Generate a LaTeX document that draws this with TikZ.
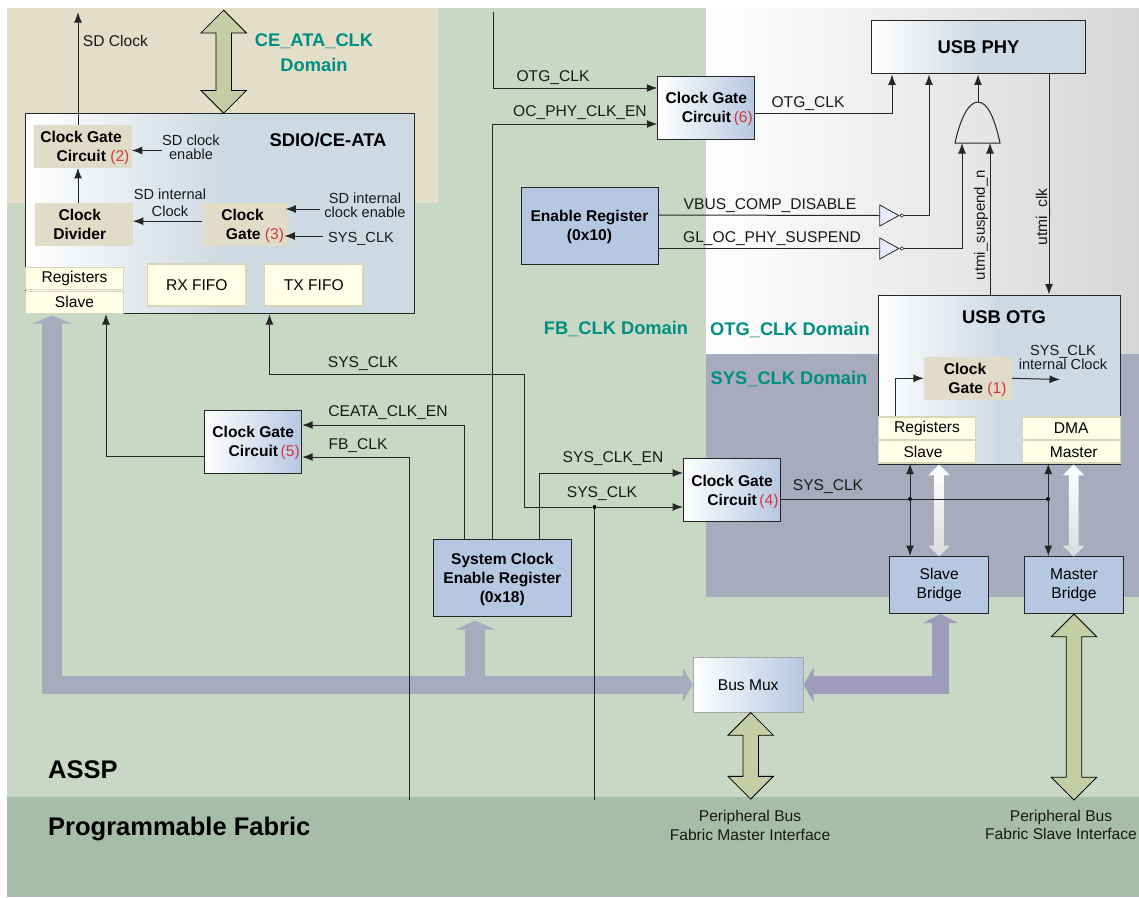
\documentclass[tikz,border=0pt]{standalone}
\usepackage{xcolor}
\usepackage{fontspec}
\setmainfont{Liberation Sans}
\usetikzlibrary{arrows.meta,positioning,shapes.geometric,shapes.arrows}
\definecolor{pagegreen}{HTML}{C9D8C5}
\definecolor{fabricgreen}{HTML}{A6BDA7}
\definecolor{ceatatan}{HTML}{E2DEC8}
\definecolor{sysgrey}{HTML}{A8AABD}
\definecolor{busviolet}{HTML}{9F9BBB}
\definecolor{sdblue}{HTML}{CEDAE3}
\definecolor{gateblue}{HTML}{B5C7E1}
\definecolor{beige}{HTML}{E0DCC8}
\definecolor{cream}{HTML}{FFFFE8}
\definecolor{creamedge}{HTML}{D9D6B6}
\definecolor{olivebus}{HTML}{C4CDA4}
\definecolor{domainteal}{HTML}{008F80}
\definecolor{numred}{HTML}{D0383F}
\newcommand{\gatenum}[1]{\textcolor{numred}{\mdseries(#1)}}
\begin{document}
\begin{tikzpicture}[
  x=1pt,y=-1pt,
  plainfont/.style={font=\fontsize{15.6}{18.5}\selectfont},
  boldfont/.style={font=\fontsize{15.6}{19}\selectfont\bfseries,text depth=0pt},
  lbl/.style={plainfont,inner sep=0,align=center,text=black!90},
  smalllbl/.style={font=\fontsize{14.6}{14.5}\selectfont,inner sep=0,align=center,text=black!90},
  blocktitle/.style={font=\fontsize{18.4}{22}\selectfont\bfseries,inner sep=0},
  domainlbl/.style={font=\fontsize{18.3}{25}\selectfont\bfseries,text=domainteal,inner sep=0,align=center},
  biglbl/.style={font=\fontsize{25.5}{30}\selectfont\bfseries,inner sep=0,anchor=west},
  fadebox/.style={draw=black!85,line width=1pt,left color=white,right color=sdblue,middle color=sdblue,inner sep=0},
  gatebox/.style={draw=black!85,line width=1pt,left color=white,right color=gateblue,boldfont,align=center,inner sep=0,minimum width=97pt,minimum height=63pt},
  regbox/.style={draw=black!85,line width=1pt,fill=gateblue,boldfont,align=center,inner sep=0},
  bridgebox/.style={draw=black!85,line width=1pt,fill=gateblue,plainfont,align=center,inner sep=0,minimum width=98.5pt,minimum height=57pt},
  beigebox/.style={fill=beige,boldfont,align=center,inner sep=0,minimum height=42.5pt},
  creambox/.style={draw=creamedge,line width=1.2pt,fill=cream,plainfont,inner sep=0,minimum width=97pt,minimum height=22.3pt},
  fifobox/.style={creambox,minimum height=42pt},
  arrow/.style={-{Latex[length=10.5pt,width=8pt]},line width=1pt,draw=black!85},
  botharrow/.style={{Latex[length=10.5pt,width=8pt]}-{Latex[length=10.5pt,width=8pt]},line width=1pt,draw=black!85},
  wire/.style={line width=1pt,draw=black!85},
  bus/.style={line width=17.4pt,draw=sysgrey},
  buswide/.style={line width=20pt,draw=sysgrey},
  busdark/.style={line width=17.4pt,draw=busviolet},
  olivearrow/.style={double arrow,rotate=90,draw=black,line width=.8pt,fill=olivebus,inner sep=7.3pt,
    double arrow head extend=15pt,double arrow head indent=0pt},
  palearrow/.style={double arrow,rotate=90,top color=white,bottom color=black!14,inner sep=4.7pt,
    double arrow head extend=6pt,double arrow head indent=0pt,minimum height=92pt},
  invgate/.style={isosceles triangle,isosceles triangle stretches,draw=black!85,line width=.8pt,fill=blue!8,inner sep=0,
    minimum width=21pt,minimum height=19pt},
  bubble/.style={circle,draw=black!85,line width=.6pt,fill=white,inner sep=0,minimum size=3.6pt},
  joint/.style={circle,fill=black,inner sep=0,minimum size=4pt}
]
\useasboundingbox (0,0) rectangle (1139,897);
% clock domains
\fill[pagegreen] (7,8) rectangle (1139,897);
\fill[ceatatan] (7,8) rectangle (438,203);
\shade[left color=white,right color=black!16] (706,8) rectangle (1139,354);
\fill[sysgrey] (706,354) rectangle (1139,597);
\fill[fabricgreen] (7,797) rectangle (1139,897);
\node[domainlbl] (ceatadomain) at (314,53) {CE\_ATA\_CLK\\Domain};
\node[domainlbl] (fbdomain) at (616,329) {FB\_CLK Domain};
\node[domainlbl] (otgdomain) at (790,330) {OTG\_CLK Domain};
\node[domainlbl] (sysdomain) at (789,379) {SYS\_CLK Domain};
\node[biglbl] (assp) at (48,770) {ASSP};
\node[biglbl] (fabric) at (48,829) {Programmable Fabric};

% blocks
\node[fadebox,minimum width=389pt,minimum height=200.4pt] (sdio) at (220.3,213.5) {};
\node[fadebox,minimum width=213.5pt,minimum height=53.3pt,blocktitle] (usbphy) at (978.5,47.3) {USB PHY};
\node[fadebox,minimum width=242pt,minimum height=169pt] (usbotg) at (999.3,379.5) {};
\node[blocktitle] (sdiotitle) at (328,140) {SDIO/CE-ATA};
\node[blocktitle] (otgtitle) at (1004,317) {USB OTG};
\node[beigebox,minimum width=97.7pt] (gatetwo) at (82.8,146.5) {Clock Gate\hspace*{3.6pt}\\\hspace*{20.4pt}Circuit \gatenum{2}};
\node[beigebox,minimum width=97.7pt] (divider) at (83.8,224.6) {Clock\hspace*{8pt}\\Divider\hspace*{8pt}};
\node[beigebox,minimum width=87.3pt] (gatethree) at (245.6,224.6) {Clock\hspace*{6.2pt}\\\hspace*{18.8pt}Gate \gatenum{3}};
\node[beigebox,minimum width=87.7pt] (gateone) at (967.8,378.3) {Clock\hspace*{5.6pt}\\\hspace*{19.4pt}Gate \gatenum{1}};
\node[creambox,minimum width=97.6pt] (lregs) at (74.5,278.6) {Registers};
\node[creambox,minimum width=97.6pt,below=.2pt of lregs] (lslave) {Slave};
\node[fifobox,minimum width=98.3pt] (rxfifo) at (196.8,285) {RX FIFO};
\node[fifobox,minimum width=98.3pt,right=17.5pt of rxfifo] (txfifo) {TX FIFO};
\node[creambox] (oregs) at (927,428.2) {Registers};
\node[creambox,below=.2pt of oregs] (oslave) {\hspace*{-8pt}Slave};
\node[creambox,minimum width=98pt] (dma) at (1071.3,428.2) {DMA};
\node[creambox,minimum width=98pt,below=.2pt of dma] (omaster) {\hspace*{5pt}Master};
\node[gatebox] (gatesix) at (706.3,107.5) {Clock Gate\\\hspace*{22pt}Circuit\,\gatenum{6}};
\node[gatebox] (gatefour) at (732,490) {Clock Gate\\\hspace*{22pt}Circuit\,\gatenum{4}};
\node[gatebox] (gatefive) at (253.2,441.7) {Clock Gate\\\hspace*{22pt}Circuit\,\gatenum{5}};
\node[regbox,minimum width=137pt,minimum height=77pt] (enreg) at (589.5,225.8) {Enable Register\\(0x10)};
\node[regbox,minimum width=137.4pt,minimum height=76.7pt] (sysreg) at (502.3,578.3) {System Clock\\Enable Register\\(0x18)};
\node[bridgebox] (slavebr) at (939.2,585) {Slave\\Bridge};
\node[bridgebox] (masterbr) at (1074,585) {Master\\Bridge};
\node[plainfont,draw=black!35,line width=1pt,left color=white,right color=gateblue,inner sep=0,minimum width=109.7pt,minimum height=55pt] (busmux) at (748.2,684.8) {Bus Mux};

% buses
\draw[buswide,{Triangle[length=8pt,width=40pt]}-] ([xshift=-22.5pt,yshift=-1.5pt]lslave.south) -- ([xshift=-22.5pt,yshift=-8.7pt]lslave.south |- busmux.west);
\draw[bus,-{Triangle[length=10pt,width=33pt]}] ([xshift=-32.5pt]lslave.south |- busmux.west) -- (busmux.west);
\draw[buswide,{Triangle[length=9pt,width=40pt]}-] ([xshift=-27pt,yshift=-3.5pt]sysreg.south) -- ([xshift=-27pt]sysreg.south |- busmux.west);
\draw[busdark,{Triangle[length=10pt,width=34pt]}-{Triangle[length=9pt,width=35pt]}] (busmux.east) -| ([xshift=1.3pt]slavebr.south);
\node[olivearrow,minimum height=103pt] (ceatabus) at (223.7,61.7) {};
\node[olivearrow,minimum height=86.5pt] (masterbus) at (750.7,755.8) {};
\node[olivearrow,minimum height=186pt] (slavebus) at (1074,707) {};
\node[palearrow] (slavelink) at (939,510.5) {};
\node[palearrow] (masterlink) at (1073.7,510.5) {};
\node[lbl] (mastertxt) at (750,825.5) {Peripheral Bus\\Fabric Master Interface};
\node[lbl] (slavetxt) at (1061,825) {Peripheral Bus\\Fabric Slave Interface};

% inside SDIO/CE-ATA
\coordinate (sdout) at (78,12);
\node[lbl] (sdclock) at (115.5,41) {SD Clock};
\node[smalllbl] (sdclken) at (191,147.5) {SD clock\\enable};
\node[smalllbl] (sdintclk) at (170,203) {SD internal\\[3pt]Clock};
\node[smalllbl] (sdinten) at (365,205.5) {SD internal\\clock enable};
\node[smalllbl] (sdsysclk) at (361,239) {SYS\_CLK};
\draw[arrow] ([xshift=-4.8pt]gatetwo.north) -- (sdout);
\draw[arrow] ([xshift=-5.8pt]divider.north) -- ([xshift=-4.8pt]gatetwo.south);
\draw[arrow] ([yshift=-3pt]sdclken.west) -- ([yshift=-3pt]sdclken.west -| gatetwo.east);
\draw[arrow] ([yshift=3.4pt]gatethree.west) -- ([yshift=3.4pt]divider.east);
\draw[arrow] ([xshift=-4pt,yshift=-3.5pt]sdinten.west) -- ([xshift=-4pt,yshift=-3.5pt]sdinten.west -| gatethree.east);
\draw[arrow] ([xshift=-5pt,yshift=3pt]sdsysclk.west) -- ([xshift=-5pt,yshift=3pt]sdsysclk.west -| gatethree.east);

% clock gates and enables
\coordinate (otgin) at (493,12);
\coordinate (fbin) at (409,800);
\coordinate (sysin) at (594.5,800);
\coordinate (syscorner) at (524,374);
\node[joint] (sysjoin) at (594.5,507) {};
\draw[arrow] (otgin) |- ([yshift=19.5pt]gatesix.west);
\draw[arrow] ([xshift=-10pt]sysreg.north) |- ([yshift=-16.5pt]gatesix.west);
\draw[arrow] ([xshift=36.7pt]sysreg.north) |- ([yshift=17pt]gatefour.west);
\draw[arrow] ([xshift=-38.3pt]sysreg.north) |- ([yshift=16.7pt]gatefive.east);
\draw[arrow] (fbin) |- ([yshift=-15.3pt]gatefive.east);
\draw[arrow] ([yshift=-14.5pt]gatefive.west) -| ([xshift=31.5pt]lslave.south);
\draw[wire] (sysin) -- (sysjoin);
\draw[arrow] (sysjoin) -- ([yshift=-17pt]gatefour.west);
\draw[arrow] (sysjoin) -| (syscorner) -| ([xshift=49.2pt]sdio.south);
\node[lbl] (otgclk) at (553,77.5) {OTG\_CLK};
\node[lbl] (ocphyen) at (580,112.5) {OC\_PHY\_CLK\_EN};
\node[lbl] (sysclkone) at (363,363.5) {SYS\_CLK};
\node[lbl] (ceataen) at (388,412.5) {CEATA\_CLK\_EN};
\node[lbl] (fbclk) at (358,445.5) {FB\_CLK};
\node[lbl] (sysen) at (613,458.5) {SYS\_CLK\_EN};
\node[lbl] (sysclktwo) at (602,493.5) {SYS\_CLK};

% USB PHY side
\node[invgate] (vbusinv) at (886,215.5) {};
\node[bubble,right=0pt of vbusinv] (vbusbub) {};
\node[invgate] (glinv) at (886,248.5) {};
\node[bubble,right=0pt of glinv] (glbub) {};
\coordinate (andout) at (978,102);
\coordinate (andleft) at (962,143);
\coordinate (andright) at (990,143);
\draw[wire] (955,143) .. controls (960,120) and (968,102) .. (andout) .. controls (988,102) and (995,120) .. (1000,143) -- cycle;
\draw[arrow] ([yshift=-5.5pt]gatesix.east) -| ([xshift=-86.5pt]usbphy.south);
\draw[wire] ([yshift=10.8pt]enreg.east) -- (vbusinv.west);
\draw[wire] ([yshift=-22.7pt]enreg.east) -- (glinv.west);
\draw[arrow] (vbusbub.east) -| ([xshift=-49.5pt]usbphy.south);
\draw[arrow] (glbub.east) -| (andleft);
\draw[arrow] ([xshift=-9.3pt]usbotg.north) -- (andright);
\draw[arrow] (andout) -- (andout |- usbphy.south);
\draw[arrow] ([xshift=70.5pt]usbphy.south) -- ([xshift=70.5pt]usbphy.south |- usbotg.north);
\node[lbl] (otgclktwo) at (808,103.5) {OTG\_CLK};
\node[lbl] (vbuslbl) at (770,205.5) {VBUS\_COMP\_DISABLE};
\node[lbl] (gloclbl) at (772,238.5) {GL\_OC\_PHY\_SUSPEND};
\node[lbl,rotate=90,font=\fontsize{15}{18}\selectfont] (suspendlbl) at (981,225) {utmi\_suspend\_n};
\node[lbl,rotate=90] (utmilbl) at (1043,217) {utmi\_clk};

% inside USB OTG
\coordinate (intclk) at (1060,379.5);
\node[smalllbl] (intclklbl) at (1063,357.5) {SYS\_CLK\\internal Clock};
\draw[arrow] ([xshift=-32pt]oregs.north) |- (gateone.west);
\draw[arrow] (gateone.east) -- (intclk);
\node[joint] (slavejoin) at (910,499) {};
\node[joint] (masterjoin) at (1048,499) {};
\draw[wire] ([yshift=-9pt]gatefour.east) -- (slavejoin) -- (masterjoin);
\draw[botharrow] ([xshift=-17pt]oslave.south) -- ([xshift=-17pt]oslave.south |- slavebr.north);
\draw[botharrow] ([xshift=-23pt]omaster.south) -- ([xshift=-23pt]omaster.south |- masterbr.north);
\node[lbl] (sysclkthree) at (828,486.5) {SYS\_CLK};
\end{tikzpicture}
\end{document}
